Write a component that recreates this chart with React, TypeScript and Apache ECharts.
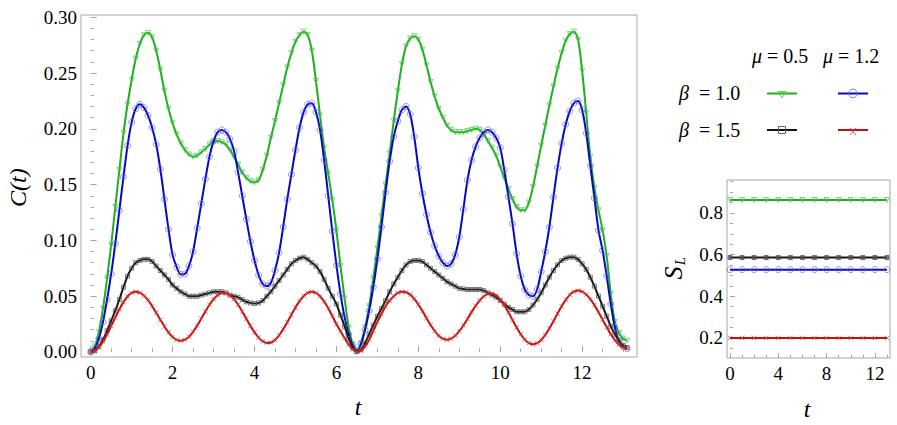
import React, { useEffect, useRef } from "react";
import * as echarts from "echarts";

// time grid step of the main panel (t = index * T_STEP)
const T_STEP = 0.1;

// C(t), beta = 1.0, mu = 0.5 (green)
const C_B10_M05 = [
  0, 0.005, 0.018, 0.039, 0.066, 0.096, 0.13, 0.163, 0.196, 0.222,
  0.244, 0.263, 0.276, 0.284, 0.286, 0.282, 0.27, 0.253, 0.234, 0.218,
  0.205, 0.195, 0.187, 0.181, 0.177, 0.175, 0.176, 0.179, 0.182, 0.186,
  0.188, 0.189, 0.188, 0.186, 0.181, 0.175, 0.168, 0.161, 0.156, 0.153,
  0.152, 0.154, 0.163, 0.176, 0.192, 0.207, 0.223, 0.239, 0.255, 0.268,
  0.278, 0.284, 0.287, 0.284, 0.27, 0.243, 0.212, 0.183, 0.16, 0.136,
  0.109, 0.077, 0.048, 0.022, 0.007, 0.001, 0.008, 0.022, 0.041, 0.066,
  0.093, 0.122, 0.15, 0.178, 0.207, 0.234, 0.258, 0.274, 0.281, 0.283,
  0.28, 0.271, 0.257, 0.242, 0.229, 0.218, 0.21, 0.203, 0.199, 0.197,
  0.197, 0.197, 0.198, 0.199, 0.2, 0.199, 0.195, 0.189, 0.183, 0.176,
  0.166, 0.156, 0.146, 0.137, 0.13, 0.127, 0.127, 0.134, 0.148, 0.166,
  0.185, 0.203, 0.221, 0.238, 0.254, 0.268, 0.279, 0.285, 0.287, 0.28,
  0.252, 0.214, 0.175, 0.147, 0.127, 0.109, 0.086, 0.052, 0.027, 0.017,
  0.012, 0.01,
];

// C(t), beta = 1.0, mu = 1.2 (blue)
const C_B10_M12 = [
  0, 0.003, 0.012, 0.027, 0.047, 0.07, 0.097, 0.127, 0.157, 0.185,
  0.206, 0.218, 0.222, 0.219, 0.212, 0.201, 0.186, 0.164, 0.137, 0.11,
  0.087, 0.076, 0.0695, 0.07, 0.077, 0.09, 0.111, 0.133, 0.155, 0.175,
  0.189, 0.197, 0.199, 0.197, 0.191, 0.18, 0.161, 0.14, 0.119, 0.099,
  0.082, 0.069, 0.061, 0.059, 0.062, 0.073, 0.089, 0.112, 0.137, 0.159,
  0.181, 0.201, 0.215, 0.222, 0.223, 0.215, 0.199, 0.172, 0.14, 0.108,
  0.078, 0.052, 0.031, 0.016, 0.006, 0.001, 0.007, 0.02, 0.037, 0.058,
  0.083, 0.112, 0.143, 0.171, 0.193, 0.207, 0.217, 0.22, 0.213, 0.193,
  0.165, 0.142, 0.123, 0.107, 0.095, 0.086, 0.08, 0.077, 0.079, 0.087,
  0.103, 0.128, 0.154, 0.172, 0.184, 0.192, 0.197, 0.199, 0.197, 0.192,
  0.183, 0.163, 0.139, 0.115, 0.088, 0.068, 0.056, 0.051, 0.05, 0.056,
  0.072, 0.09, 0.112, 0.139, 0.165, 0.187, 0.204, 0.216, 0.223, 0.225,
  0.217, 0.196, 0.167, 0.138, 0.109, 0.091, 0.068, 0.043, 0.022, 0.01,
  0.005, 0.003,
];

// C(t), beta = 1.5, mu = 0.5 (black)
const C_B15_M05 = [
  0, 0.001, 0.005, 0.011, 0.019, 0.028, 0.037, 0.047, 0.058, 0.068,
  0.075, 0.08, 0.082, 0.083, 0.083, 0.081, 0.077, 0.073, 0.069, 0.065,
  0.06, 0.057, 0.054, 0.052, 0.05, 0.05, 0.05, 0.051, 0.052, 0.053,
  0.054, 0.054, 0.054, 0.053, 0.051, 0.05, 0.049, 0.047, 0.045, 0.044,
  0.0435, 0.044, 0.046, 0.05, 0.054, 0.059, 0.064, 0.069, 0.074, 0.079,
  0.082, 0.084, 0.085, 0.083, 0.08, 0.077, 0.072, 0.065, 0.057, 0.05,
  0.043, 0.033, 0.023, 0.012, 0.004, 0.0005, 0.002, 0.008, 0.016, 0.024,
  0.032, 0.039, 0.046, 0.054, 0.061, 0.067, 0.073, 0.078, 0.081, 0.082,
  0.082, 0.081, 0.078, 0.075, 0.072, 0.069, 0.066, 0.063, 0.061, 0.059,
  0.057, 0.0565, 0.056, 0.056, 0.056, 0.056, 0.055, 0.053, 0.051, 0.049,
  0.046, 0.043, 0.04, 0.038, 0.036, 0.036, 0.036, 0.038, 0.042, 0.047,
  0.053, 0.06, 0.067, 0.073, 0.078, 0.082, 0.084, 0.085, 0.085, 0.083,
  0.079, 0.074, 0.067, 0.059, 0.05, 0.041, 0.032, 0.023, 0.016, 0.01,
  0.006, 0.004,
];

// C(t), beta = 1.5, mu = 1.2 (red)
const C_B15_M12 = [
  0, 0.0011, 0.0043, 0.0093, 0.0158, 0.0232, 0.0308, 0.0382, 0.0447, 0.0497,
  0.0529, 0.054, 0.0531, 0.0505, 0.0464, 0.0411, 0.0351, 0.0289, 0.0229, 0.0176,
  0.0135, 0.0109, 0.01, 0.011, 0.0137, 0.0181, 0.0236, 0.0299, 0.0363, 0.0423,
  0.0473, 0.0509, 0.0528, 0.0528, 0.0509, 0.0473, 0.0423, 0.0363, 0.0298, 0.0234,
  0.0176, 0.0129, 0.0096, 0.0081, 0.0085, 0.0108, 0.0148, 0.0203, 0.0267, 0.0334,
  0.0399, 0.0456, 0.0502, 0.053, 0.054, 0.053, 0.0499, 0.0452, 0.0392, 0.0322,
  0.025, 0.0185, 0.0125, 0.0065, 0.0022, 0.0002, 0.001, 0.005, 0.011, 0.019,
  0.027, 0.034, 0.041, 0.046, 0.05, 0.053, 0.054, 0.0535, 0.0514, 0.0476,
  0.0425, 0.0366, 0.0303, 0.0242, 0.0188, 0.0146, 0.0119, 0.011, 0.0119, 0.0145,
  0.0186, 0.0237, 0.0296, 0.0357, 0.0414, 0.0463, 0.05, 0.0521, 0.0524, 0.0507,
  0.0471, 0.0419, 0.0356, 0.0287, 0.0219, 0.0159, 0.0111, 0.008, 0.007, 0.008,
  0.0108, 0.0153, 0.021, 0.0276, 0.0344, 0.041, 0.0467, 0.0512, 0.054, 0.055,
  0.0541, 0.0515, 0.0474, 0.042, 0.0357, 0.029, 0.0223, 0.016, 0.0106, 0.0065,
  0.0042, 0.003,
];

// inset: S_L constant values, sampled at integer t
const INSET_T = [0, 1, 2, 3, 4, 5, 6, 7, 8, 9, 10, 11, 12, 13];
const SL_B10_M05 = 0.862;
const SL_B15_M05 = 0.586;
const SL_B10_M12 = 0.528;
const SL_B15_M12 = 0.2;

// tick labels
const X_TICKS = [0, 2, 4, 6, 8, 10, 12];
const Y_TICKS = [0, 0.05, 0.1, 0.15, 0.2, 0.25, 0.3];
const INSET_X_TICKS = [0, 4, 8, 12];
const INSET_Y_TICKS = [0.2, 0.4, 0.6, 0.8];

const FONT = "Liberation Serif";
const FRAME = "#a6a6a6";
const GREEN = "#1fae1f";
const BLUE = "#0707c4";
const BLACK = "#151515";
const RED = "#c40f0f";
const GREEN_M = "rgba(80,200,80,0.9)";
const BLUE_M = "rgba(105,105,235,0.9)";
const BLACK_M = "rgba(80,80,80,0.9)";
const RED_M = "rgba(220,60,60,0.9)";

const FONT_CSS =
  ".chart-root, .chart-root svg text, .chart-root svg tspan { font-family: 'Liberation Serif', 'Times New Roman', serif !important; }";

function range(a: number, b: number, s: number): number[] {
  const out: number[] = [];
  const n = Math.round((b - a) / s);
  for (let i = 0; i <= n; i++) out.push(Math.round((a + i * s) * 1000) / 1000);
  return out;
}

const toPairs = (arr: number[]) =>
  arr.map((v, i) => [Math.round(i * T_STEP * 10) / 10, v]);

const X_MINOR = range(0, 13, 0.5);
const Y_MINOR = range(0, 0.3, 0.01);
const INSET_X_MINOR = range(0, 13, 1);
const INSET_Y_MINOR = range(0.15, 0.95, 0.05);

const CROSS = "path://M0,0L10,10M10,0L0,10";

function lineS(data: number[][], color: string, axis: number, z: number) {
  return {
    type: "line",
    data,
    xAxisIndex: axis,
    yAxisIndex: axis,
    showSymbol: false,
    smooth: 0.3,
    silent: true,
    z,
    lineStyle: { color, width: 2 },
  };
}

function markS(
  data: number[][],
  axis: number,
  symbol: string,
  size: number,
  color: string,
  filled: boolean,
  z: number,
  rotate = 0
) {
  return {
    type: "scatter",
    data,
    xAxisIndex: axis,
    yAxisIndex: axis,
    symbol,
    symbolSize: size,
    symbolRotate: rotate,
    silent: true,
    z,
    itemStyle: {
      color: filled ? color : "rgba(0,0,0,0)",
      borderColor: color,
      borderWidth: 1,
    },
  };
}

function axisPair(
  dim: "x" | "y",
  grid: number,
  min: number,
  max: number,
  major: number[],
  minor: number[],
  majorLen: number,
  minorLen: number,
  fmt: (v: number) => string
) {
  const pos = dim === "x" ? "bottom" : "left";
  const base = {
    type: "value",
    gridIndex: grid,
    min,
    max,
    position: pos,
    axisLine: { show: false },
    splitLine: { show: false },
  };
  return [
    {
      ...base,
      axisTick: {
        show: true,
        inside: true,
        length: majorLen,
        customValues: major,
        lineStyle: { color: FRAME, width: 1 },
      },
      axisLabel: {
        show: true,
        customValues: major,
        formatter: fmt,
        fontSize: 19,
        fontFamily: FONT,
        color: "#000",
        margin: dim === "x" ? 6 : 4,
      },
    },
    {
      ...base,
      axisTick: {
        show: true,
        inside: true,
        length: minorLen,
        customValues: minor,
        lineStyle: { color: FRAME, width: 1 },
      },
      axisLabel: { show: false },
    },
  ];
}

function txt(
  text: string,
  x: number,
  y: number,
  size: number,
  italic: boolean,
  align: string,
  rotation = 0
) {
  return {
    type: "text",
    x,
    y,
    rotation,
    silent: true,
    style: {
      text,
      fontSize: size,
      fontFamily: FONT,
      fontStyle: italic ? "italic" : "normal",
      fill: "#000",
      align,
      verticalAlign: "middle",
    },
  };
}

export default function App() {
  const ref = useRef<HTMLDivElement>(null);

  useEffect(() => {
    if (!ref.current) return;
    const chart = echarts.init(ref.current, null, { renderer: "svg" });

    const mainX = axisPair("x", 0, -0.237, 13.34, X_TICKS, X_MINOR, 6, 3.5, (v) => String(v));
    const mainY = axisPair("y", 0, -0.0045, 0.302, Y_TICKS, Y_MINOR, 6, 3.5, (v) => v.toFixed(2));
    const insX = axisPair("x", 1, -0.25, 13.25, INSET_X_TICKS, INSET_X_MINOR, 5, 3, (v) => String(v));
    const insY = axisPair("y", 1, 0.104, 0.958, INSET_Y_TICKS, INSET_Y_MINOR, 5, 3, (v) => v.toFixed(1));

    const g = toPairs(C_B10_M05);
    const b = toPairs(C_B10_M12);
    const k = toPairs(C_B15_M05);
    const r = toPairs(C_B15_M12);
    const ig = INSET_T.map((t) => [t, SL_B10_M05]);
    const ik = INSET_T.map((t) => [t, SL_B15_M05]);
    const ib = INSET_T.map((t) => [t, SL_B10_M12]);
    const ir = INSET_T.map((t) => [t, SL_B15_M12]);

    const option = {
      animation: false,
      backgroundColor: "#fff",
      textStyle: { fontFamily: FONT },
      grid: [
        {
          left: 81, top: 15, width: 556, height: 342,
          show: true, borderColor: FRAME, borderWidth: 1, backgroundColor: "rgba(0,0,0,0)",
          containLabel: false, outerBoundsMode: "none",
        },
        {
          left: 727, top: 180, width: 163, height: 178,
          show: true, borderColor: FRAME, borderWidth: 1, backgroundColor: "rgba(0,0,0,0)",
          containLabel: false, outerBoundsMode: "none",
        },
      ],
      xAxis: [mainX[0], mainX[1], insX[0], insX[1]],
      yAxis: [mainY[0], mainY[1], insY[0], insY[1]],
      series: [
        lineS(g, GREEN, 0, 2),
        markS(g, 0, "triangle", 5, GREEN_M, false, 3, 180),
        lineS(b, BLUE, 0, 4),
        markS(b, 0, "circle", 6, BLUE_M, false, 5),
        lineS(k, BLACK, 0, 6),
        markS(k, 0, "rect", 4, BLACK_M, false, 7),
        lineS(r, RED, 0, 8),
        markS(r, 0, CROSS, 4.5, RED_M, false, 9),
        lineS(ig, GREEN, 2, 3),
        markS(ig, 2, "triangle", 5, GREEN_M, false, 4, 180),
        lineS(ik, BLACK, 2, 3),
        markS(ik, 2, "rect", 4, BLACK_M, true, 4),
        lineS(ib, BLUE, 2, 3),
        markS(ib, 2, "circle", 6, BLUE_M, false, 4),
        lineS(ir, RED, 2, 3),
        markS(ir, 2, CROSS, 4.5, RED_M, false, 4),
      ],
      graphic: [
        // axis titles
        txt("C(t)", 18, 207, 24, true, "left", Math.PI / 2),
        txt("t", 358, 407, 24, true, "center"),
        txt("t", 807, 409, 24, true, "center"),
        txt("S", 673, 273, 26, true, "center", Math.PI / 2),
        txt("L", 680, 261, 15, true, "center", Math.PI / 2),
        // legend headers
        txt("μ", 752, 56, 20, true, "left"),
        txt("= 0.5", 767, 56, 20, false, "left"),
        txt("μ", 823, 56, 20, true, "left"),
        txt("= 1.2", 838, 56, 20, false, "left"),
        txt("β", 679, 93, 20, true, "left"),
        txt("= 1.0", 699, 93, 20, false, "left"),
        txt("β", 679, 130, 20, true, "left"),
        txt("= 1.5", 699, 130, 20, false, "left"),
        // legend samples
        { type: "line", silent: true, shape: { x1: 767, y1: 93.5, x2: 797, y2: 93.5 }, style: { stroke: GREEN, lineWidth: 2 } },
        { type: "polygon", silent: true, shape: { points: [[778, 91.5], [786, 91.5], [782, 98]] }, style: { stroke: GREEN_M, fill: "rgba(0,0,0,0)", lineWidth: 1 } },
        { type: "line", silent: true, shape: { x1: 838, y1: 93.5, x2: 868, y2: 93.5 }, style: { stroke: BLUE, lineWidth: 2 } },
        { type: "circle", silent: true, shape: { cx: 853, cy: 93.5, r: 4.3 }, style: { stroke: BLUE_M, fill: "rgba(0,0,0,0)", lineWidth: 1 } },
        { type: "line", silent: true, shape: { x1: 767, y1: 130, x2: 797, y2: 130 }, style: { stroke: BLACK, lineWidth: 2 } },
        { type: "rect", silent: true, shape: { x: 778.5, y: 126.5, width: 7, height: 7 }, style: { stroke: BLACK_M, fill: "rgba(0,0,0,0)", lineWidth: 1 } },
        { type: "line", silent: true, shape: { x1: 838, y1: 130, x2: 868, y2: 130 }, style: { stroke: RED, lineWidth: 2 } },
        { type: "line", silent: true, shape: { x1: 850, y1: 128, x2: 856, y2: 135 }, style: { stroke: RED_M, lineWidth: 1 } },
        { type: "line", silent: true, shape: { x1: 850, y1: 135, x2: 856, y2: 128 }, style: { stroke: RED_M, lineWidth: 1 } },
      ],
    };

    chart.setOption(option as any);
    return () => chart.dispose();
  }, []);

  return (
    <>
      <style>{FONT_CSS}</style>
      <div
        ref={ref}
        className="chart-root"
        style={{ position: "absolute", left: 0, top: 0, width: 897, height: 425 }}
      />
    </>
  );
}
